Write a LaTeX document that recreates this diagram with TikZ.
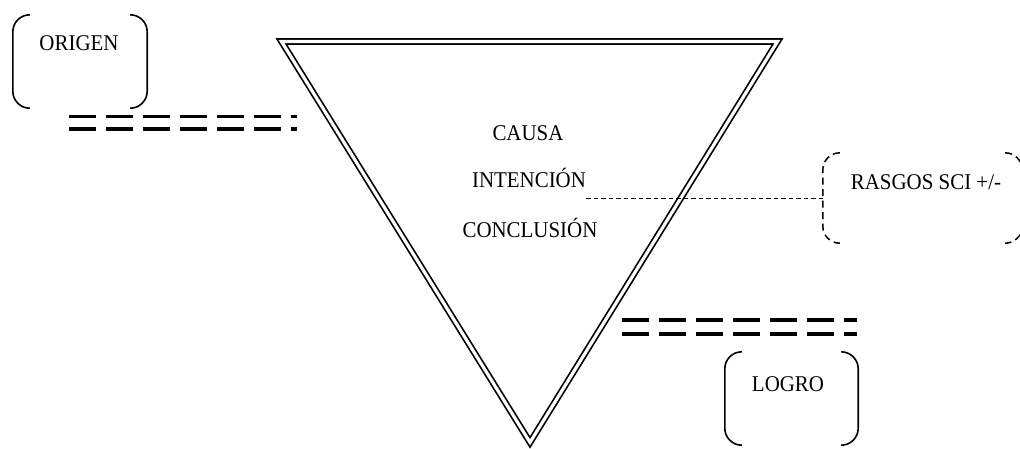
\documentclass[tikz,border=0pt]{standalone}
\usepackage{fontspec}
\setmainfont{Liberation Serif}[FakeStretch=0.93]
\begin{document}
\begin{tikzpicture}[x=1pt,y=-1pt,
  lbl/.style={font=\fontsize{22.5}{27}\selectfont, inner sep=0pt, anchor=base},
  area/.style={inner sep=0pt, minimum width=#1},
  bracket/.style={line width=1.6pt, rounded corners=17pt},
  dbracket/.style={bracket, line width=1.5pt, dash pattern=on 7pt off 4.5pt},
  tri/.style={double, line width=1.7pt, double distance=3.2pt, line join=miter},
  bar/.style={line width=3.4pt, dash pattern=on 27pt off 10pt},
  link/.style={line width=1pt, dash pattern=on 4.5pt off 3pt}
]
\useasboundingbox (0,0) rectangle (1020,448);

% triangle
\draw[tri] (281.5,41.5) coordinate (tl) -- (777.5,41.5) coordinate (tr)
  -- (530,442.4) coordinate (ap) -- cycle;

% texts inside triangle
\node[lbl] (causa) at (528,140) {CAUSA};
\node[lbl] (intencion) at (529,187) {INTENCIÓN};
\node[lbl] (conclusion) at (530,237) {CONCLUSIÓN};

% ORIGEN box
\node[area=134pt, minimum height=93pt] (origen) at (80,61.5) {};
\node[lbl] (origenT) at (79,50) {ORIGEN};
\draw[bracket] ([xshift=17pt]origen.north west) -- (origen.north west)
  -- (origen.south west) -- ([xshift=17pt]origen.south west);
\draw[bracket] ([xshift=-17pt]origen.north east) -- (origen.north east)
  -- (origen.south east) -- ([xshift=-17pt]origen.south east);

% LOGRO box
\node[area=133pt, minimum height=93pt] (logro) at (791.5,398.5) {};
\node[lbl] (logroT) at (788,391) {LOGRO};
\draw[bracket] ([xshift=17pt]logro.north west) -- (logro.north west)
  -- (logro.south west) -- ([xshift=17pt]logro.south west);
\draw[bracket] ([xshift=-17pt]logro.north east) -- (logro.north east)
  -- (logro.south east) -- ([xshift=-17pt]logro.south east);

% RASGOS box (dashed)
\node[area=199pt, minimum height=90pt] (rasgos) at (922.5,198) {};
\node[lbl] (rasgosT) at (926,189) {RASGOS SCI +/-};
\draw[dbracket] ([xshift=17pt]rasgos.north west) -- (rasgos.north west)
  -- (rasgos.south west) -- ([xshift=17pt]rasgos.south west);
\draw[dbracket] ([xshift=-17pt]rasgos.north east) -- (rasgos.north east)
  -- (rasgos.south east) -- ([xshift=-17pt]rasgos.south east);

% dashed link
\draw[link] (intencion.east |- rasgos.west) -- (rasgos.west);

% double bars
\coordinate (b1a) at (69,116.5);
\coordinate (b1b) at (297,116.5);
\coordinate (b2a) at (69,129);
\coordinate (b2b) at (297,129);
\draw[bar] (b1a) -- (b1b);
\draw[bar] (b2a) -- (b2b);
\coordinate (c1a) at (622,320);
\coordinate (c1b) at (857,320);
\coordinate (c2a) at (622,334);
\coordinate (c2b) at (857,334);
\draw[bar] (c1a) -- (c1b);
\draw[bar] (c2a) -- (c2b);
\end{tikzpicture}
\end{document}
